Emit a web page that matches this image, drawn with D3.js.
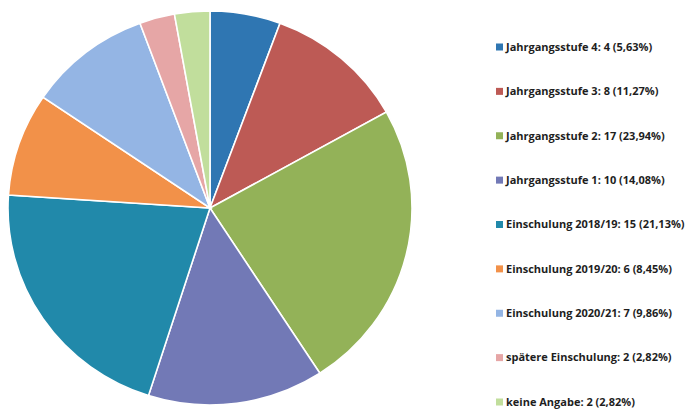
<!DOCTYPE html>
<html>
<head>
<meta charset="utf-8">
<script src="https://cdn.jsdelivr.net/npm/d3@7"></script>
<style>
  html, body { margin: 0; padding: 0; background: #fff; }
  svg { display: block; }
</style>
</head>
<body>
<svg id="chart" width="693" height="412"></svg>
<script>
// Categories and counts, drawn clockwise from 12 o'clock
const categories = [
  "Jahrgangsstufe 4",
  "Jahrgangsstufe 3",
  "Jahrgangsstufe 2",
  "Jahrgangsstufe 1",
  "Einschulung 2018/19",
  "Einschulung 2019/20",
  "Einschulung 2020/21",
  "spätere Einschulung",
  "keine Angabe"
];
const counts = [4, 8, 17, 10, 15, 6, 7, 2, 2];
const percentLabels = ["5,63%", "11,27%", "23,94%", "14,08%", "21,13%", "8,45%", "9,86%", "2,82%", "2,82%"];
const colors = ["#2f76b2", "#bd5a55", "#93b258", "#7279b6", "#2189aa", "#f29149", "#94b5e4", "#e6a6a6", "#c1de9c"];

const svg = d3.select("#chart");

// Pie, slightly flattened vertically
const cx = 210, cy = 208, rx = 202, ry = 197;
const pie = d3.pie().sort(null).value(d => d);
const arc = d3.arc().innerRadius(0).outerRadius(rx);
const color = d3.scaleOrdinal().domain(categories).range(colors);

const g = svg.append("g")
  .attr("transform", `translate(${cx},${cy}) scale(1,${ry / rx})`);

g.selectAll("path")
  .data(pie(counts))
  .join("path")
  .attr("d", arc)
  .attr("fill", (d, i) => color(categories[i]))
  .attr("stroke", "#fff")
  .attr("stroke-width", 1.6)
  .attr("vector-effect", "non-scaling-stroke");

// Legend
const legendY = d3.scalePoint().domain(categories).range([47, 402]);
const legend = svg.append("g");
const items = legend.selectAll("g")
  .data(categories)
  .join("g")
  .attr("transform", d => `translate(496,${legendY(d)})`);

items.append("rect")
  .attr("x", 0).attr("y", -3.5)
  .attr("width", 7).attr("height", 7)
  .attr("fill", d => color(d));

items.append("text")
  .attr("x", 10)
  .attr("dy", "0.35em")
  .attr("font-family", "'Open Sans', sans-serif")
  .attr("font-weight", "bold")
  .attr("font-size", 11)
  .attr("fill", "#1e1e1e")
  .text((d, i) => `${d}: ${counts[i]} (${percentLabels[i]})`);
</script>
</body>
</html>
